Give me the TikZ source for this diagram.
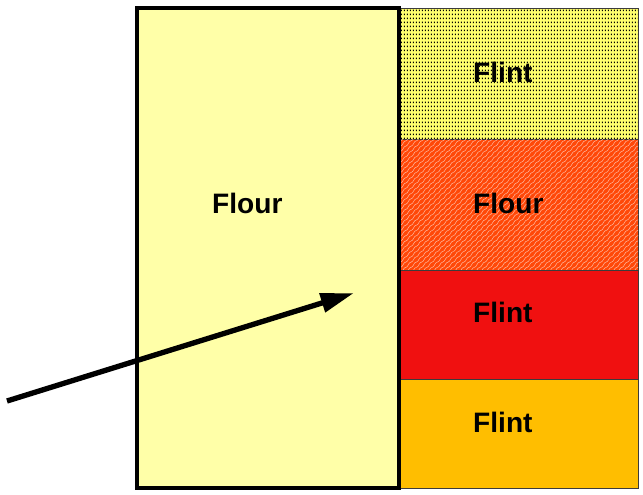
\documentclass[tikz,border=0pt]{standalone}
\usepackage{fontspec}
\setmainfont{Liberation Sans}
\usetikzlibrary{arrows.meta,positioning,patterns.meta}
\definecolor{flourpale}{RGB}{255,255,168}
\definecolor{flintdot}{RGB}{255,255,110}
\definecolor{flourorange}{RGB}{255,72,8}
\definecolor{flintred}{RGB}{240,16,16}
\definecolor{flintamber}{RGB}{255,190,0}
\definecolor{edgegray}{RGB}{60,60,60}

% dotted and wavy fills of the upper two layers
\tikzdeclarepattern{
  name=flintdots, type=uncolored,
  bottom left={(0pt,0pt)}, top right={(2.55pt,3.4pt)},
  tile size={(2.55pt,3.4pt)},
  code={\fill (0.7pt,0.7pt) rectangle ++(0.85pt,1.4pt);}
}
\tikzdeclarepattern{
  name=flourwaves, type=uncolored,
  bottom left={(-0.5pt,-0.5pt)}, top right={(5pt,5pt)},
  tile size={(4.5pt,4.5pt)},
  code={\draw[line width=0.45pt] (0pt,0pt) .. controls (1.8pt,0pt) and (2.2pt,4.5pt) .. (4.5pt,4.5pt);}
}

\begin{document}
\begin{tikzpicture}[x=0.03cm, y=-0.03cm,
    layer/.style={rectangle, draw=edgegray, line width=0.8pt, outer sep=0pt,
        inner sep=0pt, minimum width=7.17cm},
    tall/.style={layer, minimum height=3.93cm},
    short/.style={layer, minimum height=3.27cm},
    kernel/.style={rectangle, draw=black, line width=2.7pt, fill=flourpale,
        outer sep=0pt, inner sep=0pt, minimum width=7.86cm, minimum height=14.4cm},
    grain/.style={font=\fontsize{24}{28}\selectfont\bfseries, anchor=west, inner sep=0pt},
    shot/.style={-{Triangle[length=1.0cm,width=0.56cm]}, line width=0.16cm}
]
    \useasboundingbox (0,0) rectangle (643,494);

    % right column of layers
    \node[tall, fill=flintdot, postaction={pattern={flintdots}, pattern color=black}] (top) at (518.5,73.5) {};
    \node[tall, fill=flourorange, postaction={pattern={flourwaves}, pattern color=white!60!flourorange},
        below=0pt of top] (upper) {};
    \node[short, fill=flintred, below=0pt of upper] (lower) {};
    \node[short, fill=flintamber, below=0pt of lower] (bottom) {};

    % large block on the left
    \node[kernel] (flour) at (268,248) {};

    \node[grain] (lflour) at (212,203) {Flour};
    \node[grain] (ltop) at (473,72) {Flint};
    \node[grain] (lupper) at (473,203) {Flour};
    \node[grain] (llower) at (473,312) {Flint};
    \node[grain] (lbottom) at (473,422) {Flint};

    \coordinate (tail) at (7,401);
    \coordinate (head) at (354,293);
    \draw[shot] (tail) -- (head);
\end{tikzpicture}
\end{document}
